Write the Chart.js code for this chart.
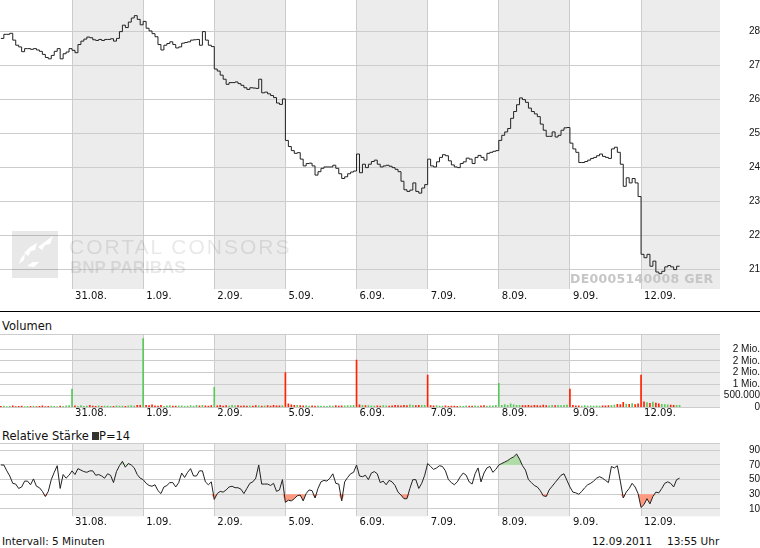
<!DOCTYPE html>
<html lang="de">
<head>
<meta charset="UTF-8">
<title>Kursverlauf DE0005140008</title>
<script src="https://cdn.jsdelivr.net/npm/chart.js@4/dist/chart.umd.min.js"></script>
<style>
  body { margin: 0; width: 760px; height: 548px; position: relative; overflow: hidden; background: #fff; font-family: 'DejaVu Sans', sans-serif; color: #111; }
  canvas { position: absolute; left: 0; }
  .txt { position: absolute; white-space: nowrap; line-height: 1; }
  .panel-title { font-size: 11.5px; left: 2px; }
  .foot { font-size: 10.5px; top: 536px; }
  .sep { position: absolute; left: 0; top: 311px; width: 760px; height: 1px; background: #000; }
  .sq { display: inline-block; width: 7px; height: 8px; background: #333; margin-left: 3px; }
  .wm { position: absolute; white-space: nowrap; line-height: 1; font-family: 'Liberation Sans', sans-serif; color: rgba(0,0,0,0.09); }
</style>
</head>
<body>

<canvas id="priceChart" width="760" height="306" style="top:0"></canvas>
<div class="sep"></div>
<div class="txt panel-title" style="top:321px">Volumen</div>
<canvas id="volumeChart" width="760" height="86" style="top:334px"></canvas>
<div class="txt panel-title" style="top:431px">Relative Stärke<span class="sq"></span>P=14</div>
<canvas id="rsiChart" width="760" height="86" style="top:443px"></canvas>
<div class="txt foot" style="left:2px">Intervall: 5 Minuten</div>
<div class="txt foot" style="left:592px">12.09.2011</div>
<div class="txt foot" style="left:667px">13:55 Uhr</div>

<!-- watermark -->
<svg style="position:absolute;left:12px;top:231px" width="46" height="47" viewBox="0 0 46 47">
  <rect width="46" height="47" fill="rgba(0,0,0,0.09)"/>
  <path d="M26 16 L34 10 L41 5 L38 13 L33 14 L30 19 Z M12 22 L18 16 L25 12 L23 19 L19 20 L16 25 Z M7 33 L9 27 L13 23 L12 29 Z M15 35 L21 31 L27 31 L22 36 Z" fill="#fff"/>
</svg>
<div class="wm" style="left:69px;top:236px;font-size:21px;letter-spacing:2px">CORTAL CONSORS</div>
<div class="wm" style="left:70px;top:259px;font-size:17px;font-weight:bold">BNP PARIBAS</div>
<div class="txt" style="left:570px;top:273px;font-size:12.5px;font-weight:bold;color:#c6c6c6;letter-spacing:0.3px">DE0005140008 GER</div>

<script>
    // Handelstage, je 24 Stützpunkte (ca. alle 20 Minuten)
    const dayLabels = ['30.08.', '31.08.', '1.09.', '2.09.', '5.09.', '6.09.', '7.09.', '8.09.', '9.09.', '12.09.'];
    const SAMPLES_PER_DAY = 24;

    // Kurs in EUR
    const priceDays = [
        [27.8, 27.92, 27.92, 27.95, 27.75, 27.6, 27.55, 27.41, 27.5, 27.5, 27.48, 27.5, 27.46, 27.42, 27.33, 27.24, 27.2, 27.3, 27.42, 27.5, 27.2, 27.35, 27.4, 27.5],
        [27.45, 27.38, 27.62, 27.72, 27.78, 27.84, 27.82, 27.76, 27.74, 27.77, 27.74, 27.77, 27.77, 27.79, 27.72, 27.8, 28.0, 28.19, 28.12, 28.28, 28.4, 28.47, 28.36, 28.2],
        [28.3, 28.1, 28.02, 27.94, 27.85, 27.62, 27.46, 27.6, 27.65, 27.7, 27.62, 27.52, 27.55, 27.66, 27.68, 27.7, 27.75, 27.76, 27.77, 27.6, 28.0, 27.75, 27.6, 27.56],
        [26.9, 26.84, 26.72, 26.6, 26.45, 26.5, 26.5, 26.52, 26.47, 26.42, 26.35, 26.3, 26.35, 26.34, 26.33, 26.6, 26.2, 26.22, 26.17, 26.12, 26.06, 25.9, 25.86, 26.02],
        [24.8, 24.62, 24.5, 24.42, 24.44, 24.25, 24.05, 24.12, 24.13, 24.05, 23.78, 23.88, 23.98, 24.02, 24.02, 24.02, 24.07, 23.98, 23.82, 23.68, 23.73, 23.82, 23.87, 23.9],
        [24.4, 23.85, 24.1, 24.0, 24.1, 24.18, 24.22, 24.1, 24.02, 24.05, 24.07, 24.04, 24.0, 23.95, 23.88, 23.6, 23.35, 23.3, 23.34, 23.55, 23.3, 23.25, 23.4, 23.5],
        [24.25, 24.05, 24.02, 24.17, 24.3, 24.38, 24.35, 24.2, 24.08, 24.02, 24.0, 24.12, 24.17, 24.28, 24.25, 24.12, 24.3, 24.36, 24.3, 24.22, 24.42, 24.45, 24.48, 24.5],
        [24.8, 24.95, 25.05, 25.15, 25.45, 25.65, 25.85, 26.05, 26.0, 25.92, 25.75, 25.65, 25.58, 25.5, 25.28, 25.1, 24.92, 24.92, 25.05, 24.9, 24.95, 25.1, 25.17, 25.18],
        [24.72, 24.55, 24.45, 24.15, 24.15, 24.18, 24.22, 24.27, 24.3, 24.35, 24.4, 24.33, 24.3, 24.27, 24.55, 24.6, 24.45, 24.1, 23.45, 23.7, 23.55, 23.68, 23.55, 23.15],
        [21.45, 21.35, 21.45, 21.1, 21.25, 20.93, 20.88, 20.95, 21.08, 21.12, 21.08, 21.0, 21.1, 21.1]
    ];

    // Volumen in Tausend Stück
    const volumeDays = [
        [40, 55, 30, 45, 60, 35, 40, 50, 30, 45, 40, 55, 35, 40, 60, 30, 45, 50, 40, 35, 55, 45, 60, 70],
        [780, 60, 45, 70, 40, 55, 90, 50, 45, 60, 40, 55, 50, 45, 40, 65, 50, 55, 45, 60, 70, 50, 85, 90],
        [2950, 90, 70, 110, 60, 55, 80, 45, 60, 70, 55, 50, 65, 60, 45, 55, 70, 50, 80, 60, 90, 65, 55, 70],
        [860, 60, 80, 55, 70, 50, 90, 60, 75, 55, 60, 50, 65, 55, 70, 60, 50, 65, 70, 55, 80, 60, 65, 75],
        [1490, 150, 110, 90, 80, 70, 60, 75, 55, 60, 50, 65, 55, 50, 45, 60, 55, 70, 50, 65, 60, 75, 70, 80],
        [2030, 110, 90, 70, 75, 60, 55, 65, 50, 70, 60, 55, 65, 80, 70, 60, 90, 75, 110, 85, 70, 80, 90, 85],
        [1380, 70, 60, 75, 55, 50, 60, 45, 55, 50, 40, 50, 45, 60, 55, 50, 65, 55, 60, 70, 50, 60, 65, 80],
        [1030, 90, 120, 80, 150, 110, 90, 80, 70, 75, 80, 65, 90, 70, 60, 95, 70, 65, 80, 75, 90, 70, 85, 95],
        [780, 80, 65, 60, 55, 70, 55, 60, 50, 65, 55, 60, 65, 70, 90, 100, 130, 120, 210, 140, 130, 160, 120, 150],
        [1380, 240, 200, 170, 220, 180, 150, 130, 120, 110, 100, 90, 85, 80]
    ];
    // Eröffnungsumsatz steigend (grün) oder fallend (rot)
    const openUp = [false, true, true, true, false, false, false, true, false, false];

    // Relative Stärke, P=14
    const rsiDays = [
        [70, 70, 62, 55, 45, 44, 38, 40, 48, 48, 43, 51, 41, 39, 34, 27, 34, 50, 60, 69, 38, 57, 52, 56],
        [62, 57, 65, 63, 61, 60, 62, 62, 56, 57, 55, 52, 58, 56, 46, 61, 69, 75, 67, 72, 70, 66, 57, 52],
        [50, 45, 42, 41, 43, 35, 31, 40, 42, 46, 46, 40, 46, 59, 53, 60, 65, 55, 55, 62, 62, 47, 43, 47],
        [23, 31, 34, 33, 36, 40, 41, 39, 39, 37, 31, 38, 45, 47, 52, 70, 44, 44, 44, 42, 45, 34, 36, 50],
        [19, 22, 21, 24, 28, 29, 21, 31, 36, 35, 25, 38, 47, 49, 48, 52, 58, 45, 44, 21, 47, 53, 58, 60],
        [70, 55, 54, 56, 50, 59, 61, 58, 46, 48, 43, 49, 47, 42, 33, 29, 24, 24, 38, 50, 50, 38, 45, 56],
        [72, 68, 64, 66, 69, 68, 62, 50, 46, 43, 47, 54, 59, 56, 47, 44, 58, 66, 47, 59, 66, 68, 60, 64],
        [70, 72, 74, 76, 79, 81, 85, 78, 69, 63, 50, 46, 42, 40, 35, 28, 27, 36, 41, 46, 51, 56, 58, 49],
        [40, 33, 32, 30, 34, 39, 43, 45, 48, 52, 54, 52, 49, 46, 68, 66, 69, 48, 25, 33, 38, 45, 40, 31],
        [12, 16, 24, 17, 27, 33, 32, 38, 45, 47, 45, 40, 50, 52]
    ];
    const RSI_LOW = 30, RSI_HIGH = 70;

    // Achsen
    const priceTicks = [21, 22, 23, 24, 25, 26, 27, 28];
    const volumeTicks = [0, 500000, 1000000, 1500000, 2000000, 2500000, 3150000];
    const volumeTickLabels = ['0', '500.000', '1 Mio.', '2 Mio.', '2 Mio.', '2 Mio.', ''];
    const rsiTicks = [10, 30, 50, 70, 90, 100];
    const rsiTickLabels = ['10', '30', '50', '70', '90', ''];

    const XMIN = -0.0125, XMAX = 10.11;

    function toPoints(days, factor) {
        const pts = [];
        days.forEach((vals, d) => vals.forEach((v, i) => {
            pts.push({ x: d + i / SAMPLES_PER_DAY, y: v * factor });
        }));
        return pts;
    }

    const pricePts = toPoints(priceDays, 1);
    const volumePts = toPoints(volumeDays, 1000);
    const rsiPts = toPoints(rsiDays, 1);
    // überverkauft / überkauft Flächen
    const rsiLowPts = rsiPts.map(p => ({ x: p.x, y: Math.min(p.y, RSI_LOW) }));
    const rsiHighPts = rsiPts.map(p => ({ x: p.x, y: Math.max(p.y, RSI_HIGH) }));

    // Farbe der Umsatzbalken aus der Kursänderung
    const volumeColors = [];
    priceDays.forEach((vals, d) => vals.forEach((v, i) => {
        const up = i === 0 ? openUp[d] : v >= vals[i - 1];
        volumeColors.push(up ? '#5ac85a' : '#ff2200');
    }));

    // graue Spalten für jeden zweiten Handelstag
    const dayBands = {
        id: 'dayBands',
        beforeDraw(chart) {
            const { ctx, chartArea: a, scales: { x } } = chart;
            ctx.save();
            ctx.fillStyle = '#ececec';
            for (let d = 1; d < dayLabels.length; d += 2) {
                const l = Math.max(a.left, x.getPixelForValue(d));
                const r = d + 1 >= dayLabels.length ? a.right : Math.min(a.right, x.getPixelForValue(d + 1));
                ctx.fillRect(l, a.top, r - l, a.bottom - a.top);
            }
            ctx.restore();
        }
    };

    function xAxis(h, pad) {
        return {
            type: 'linear', min: XMIN, max: XMAX, offset: false,
            grid: { color: '#cccccc', drawTicks: false, offset: false },
            border: { display: false },
            ticks: {
                autoSkip: false, maxRotation: 0, align: 'start', labelOffset: 3, padding: pad,
                color: '#111', font: { family: 'DejaVu Sans', size: 10 },
                callback: v => dayLabels[v]
            },
            afterBuildTicks: s => { s.ticks = dayLabels.slice(1).map((_, i) => ({ value: i + 1 })); },
            afterFit: s => { s.height = h; s.paddingLeft = 0; s.paddingRight = 0; }
        };
    }

    function yAxis(ticks, labels, min, max, pad) {
        return {
            type: 'linear', position: 'right', min: min, max: max,
            grid: { color: '#cccccc', drawTicks: false },
            border: { display: false },
            ticks: {
                autoSkip: false, crossAlign: 'far', padding: pad, color: '#111',
                font: { family: 'Liberation Sans', size: 10 },
                callback: (v, i) => labels[i]
            },
            afterBuildTicks: s => { s.ticks = ticks.map(v => ({ value: v })); },
            afterFit: s => { s.width = 40; s.paddingTop = 0; s.paddingBottom = 0; }
        };
    }

    const common = {
        responsive: false,
        devicePixelRatio: 1,
        animation: false,
        events: [],
        layout: { padding: 0 },
        plugins: { legend: { display: false }, tooltip: { enabled: false } }
    };

    new Chart(document.getElementById('priceChart'), {
        type: 'line',
        data: {
            datasets: [{
                data: pricePts,
                borderColor: '#222',
                borderWidth: 1,
                pointRadius: 0,
                stepped: true,
                fill: false
            }]
        },
        options: Object.assign({}, common, {
            scales: {
                x: xAxis(17, 1),
                y: yAxis(priceTicks, priceTicks.map(String), 20.43, 28.93, 28)
            }
        }),
        plugins: [dayBands]
    });

    new Chart(document.getElementById('volumeChart'), {
        type: 'bar',
        data: {
            datasets: [{
                data: volumePts,
                backgroundColor: volumeColors,
                barThickness: 1,
                barPercentage: 1,
                categoryPercentage: 1
            }]
        },
        options: Object.assign({}, common, {
            scales: {
                x: xAxis(12.7, 0),
                y: yAxis(volumeTicks, volumeTickLabels, 0, 3150000, 3)
            }
        }),
        plugins: [dayBands]
    });

    new Chart(document.getElementById('rsiChart'), {
        type: 'line',
        data: {
            datasets: [
                {
                    data: rsiPts, borderColor: '#222', borderWidth: 1, pointRadius: 0, order: 0, fill: false
                },
                {
                    data: rsiLowPts, borderWidth: 0, borderColor: 'rgba(0,0,0,0)', pointRadius: 0, order: 1,
                    backgroundColor: '#ff9980', fill: { value: RSI_LOW }
                },
                {
                    data: rsiHighPts, borderWidth: 0, borderColor: 'rgba(0,0,0,0)', pointRadius: 0, order: 2,
                    backgroundColor: '#b0dca8', fill: { value: RSI_HIGH }
                }
            ]
        },
        options: Object.assign({}, common, {
            scales: {
                x: xAxis(12.7, 0),
                y: yAxis(rsiTicks, rsiTickLabels, 0, 100, 28)
            }
        }),
        plugins: [dayBands]
    });
</script>
</body>
</html>
